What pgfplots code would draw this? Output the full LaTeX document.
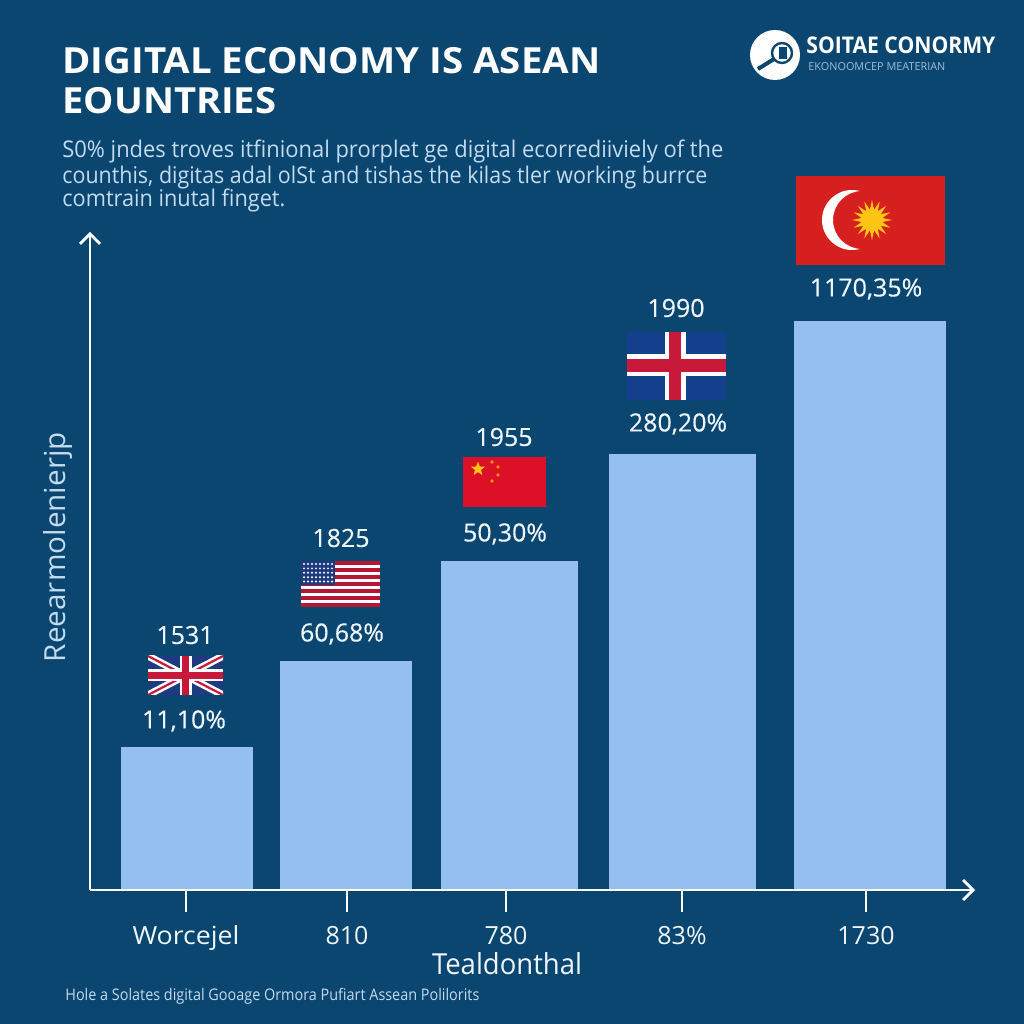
\documentclass[border=0pt]{standalone}
\usepackage{graphicx}
\usepackage{fontspec}
\setmainfont{Open Sans}
\newfontfamily\titlefont{Open Sans}[BoldFont={Open Sans Bold}]
\newfontfamily\medfont{Open Sans}[FakeBold=0.35]
\usepackage{pgfplots}
\pgfplotsset{compat=1.18}
\usetikzlibrary{arrows.meta,shapes.geometric}
\definecolor{bg}{HTML}{0A4670}
\definecolor{barc}{HTML}{94BFEE}
\definecolor{subc}{HTML}{C3DBEF}
\definecolor{txt}{HTML}{EEF5FB}
\definecolor{flagblue}{HTML}{1F3B80}
\definecolor{crossblue}{HTML}{143F8C}
\definecolor{flagred}{HTML}{C8193A}
\definecolor{cnred}{HTML}{DC1026}
\definecolor{myred}{HTML}{D6201F}
\definecolor{sun}{HTML}{FCC514}
\newcommand\fw[2]{\resizebox{#1}{\height}{#2}}
\pgfplotsset{
  onebar/.style n args={4}{ybar, bar width=#1, bar shift=0pt, fill=barc, draw=none,
    point meta=explicit symbolic, nodes near coords,
    every node near coord/.style={anchor=center, xshift=#2, yshift=#3, text=txt,
      font=\medfont\fontsize{12.5}{14}\selectfont}},
}
\begin{document}
\begin{tikzpicture}
\useasboundingbox (0,0) rectangle (512pt,512pt);
\fill[bg] (0,0) rectangle (512pt,512pt);
\begin{axis}[
  at={(45pt,67pt)}, anchor=south west, scale only axis,
  width=442.5pt, height=329pt,
  xmin=90, xmax=975, ymin=0, ymax=658,
  clip=false, axis on top,
  axis lines=left,
  axis line style={white, line width=1.4pt, -{Straight Barb[length=5pt,width=10pt]}},
  xtick={186,347,506,682,866},
  xticklabels={\fw{53.5pt}{Worcejel},810,780,83\%,1730},
  ytick=\empty,
  tick style={white, line width=1.1pt},
  tick align=outside, major tick length=11pt,
  typeset ticklabels with strut,
  xticklabel style={anchor=center, text=txt, yshift=-13.5pt, font=\fontsize{12.5}{14}\selectfont},
  xlabel={\fw{75pt}{Tealdonthal}},
  every axis x label/.style={at={(rel axis cs:0.4712,0)}, anchor=center, yshift=-37pt,
    text=txt, font=\fontsize{14.5}{16}\selectfont},
  ylabel={\fw{115pt}{Reearmolenierjp}},
  every axis y label/.style={at={(rel axis cs:0,0.521)}, rotate=90, anchor=center, yshift=16pt,
    text=subc, font=\fontsize{14.5}{16}\selectfont},
]
\addplot+[onebar={66pt}{-1.5pt}{13pt}{}, mark=none] coordinates {(187,143) [11,10\%]};
\addplot+[onebar={66pt}{-2pt}{13.5pt}{}, mark=none] coordinates {(346,229) [60,68\%]};
\addplot+[onebar={68.5pt}{-2.25pt}{13.5pt}{}, mark=none] coordinates {(509.5,329) [50,30\%]};
\addplot+[onebar={73.5pt}{-2.25pt}{15pt}{}, mark=none] coordinates {(682.5,436) [280,20\%]};
\addplot+[onebar={76pt}{-2pt}{16pt}{}, mark=none] coordinates {(870,569) [1170,35\%]};
\end{axis}
\begin{scope}[shift={(0,512pt)}, x=0.5pt, y=-0.5pt]
% title block
\node[anchor=base west, inner sep=0, text=white, font=\titlefont\bfseries\fontsize{18}{20}\selectfont] at (62,74) {\fw{269pt}{DIGITAL ECONOMY IS ASEAN}};
\node[anchor=base west, inner sep=0, text=white, font=\titlefont\bfseries\fontsize{18}{20}\selectfont] at (62,114) {\fw{107pt}{EOUNTRIES}};
\node[anchor=base west, inner sep=0, text=subc, font=\fontsize{11.5}{13}\selectfont] at (62,158) {\fw{330.5pt}{S0\% jndes troves itfinional prorplet ge digital ecorrediiviely of the}};
\node[anchor=base west, inner sep=0, text=subc, font=\fontsize{11.5}{13}\selectfont] at (62,184) {\fw{322.5pt}{counthis, digitas adal olSt and tishas the kilas tler working burrce}};
\node[anchor=base west, inner sep=0, text=subc, font=\fontsize{11.5}{13}\selectfont] at (62,207) {\fw{111.5pt}{comtrain inutal finget.}};
\node[anchor=base west, inner sep=0, text=subc, font=\fontsize{8}{9}\selectfont] at (65,1000) {\fw{207pt}{Hole a Solates digital Gooage Ormora Pufiart Assean Polilorits}};
% logo
\fill[white] (775,55) circle[radius=25];
\draw[bg, line width=1.2pt] (782,53) circle[radius=10];
\draw[bg, line width=2pt] (758,69) -- (774,59);
\fill[bg] (779,47) rectangle (787,59);
\node[anchor=base west, inner sep=0, text=white, font=\titlefont\bfseries\fontsize{11.5}{13}\selectfont] at (806,54) {\fw{94.5pt}{SOITAE CONORMY}};
\node[anchor=base west, inner sep=0, text=subc!80!bg, font=\fontsize{5.5}{6}\selectfont] at (808,71) {\fw{68.5pt}{EKONOOMCEP MEATERIAN}};
% year labels
\foreach \x/\y/\t in {185/635/1531, 341/538/1825, 504/437/1955, 676/308/1990}
  \node[anchor=center, inner sep=0, text=txt, font=\medfont\fontsize{12.5}{14}\selectfont] at (\x,\y) {\t};
% UK flag
\begin{scope}
\clip (148,656) rectangle (223,695);
\fill[flagblue] (148,656) rectangle (223,695);
\draw[white, line width=3.6pt] (148,656) -- (223,695) (148,695) -- (223,656);
\draw[flagred, line width=1.1pt] (148,656) -- (223,695) (148,695) -- (223,656);
\draw[white, line width=6pt] (185.5,656) -- (185.5,695) (148,675.5) -- (223,675.5);
\draw[flagred, line width=3.6pt] (185.5,656) -- (185.5,695) (148,675.5) -- (223,675.5);
\end{scope}
% US flag
\fill[white] (301,561) rectangle (380,607);
\foreach \i in {0,2,...,12}
  \fill[flagred!90!black] (301,{561+\i*46/13}) rectangle (380,{561+(\i+1)*46/13});
\fill[flagblue] (301,561) rectangle (335,585);
\foreach \a in {0,...,7} \foreach \b in {0,...,4}
  \fill[white] ({304+\a*4},{564+\b*4.4}) circle[radius=1.1];
% China flag
\fill[cnred] (463,457) rectangle (546,507);
\node[star, star points=5, star point ratio=2.4, fill=sun, inner sep=0, minimum size=7.5pt] at (478,469) {};
\foreach \x/\y in {492/462, 498/467, 498/475, 492/481}
  \fill[orange!85!yellow] (\x,\y) circle[radius=1.8];
% Cross flag
\fill[crossblue] (627,332) rectangle (726,400);
\fill[white] (665,332) rectangle (686,400);
\fill[white] (627,354) rectangle (726,376);
\fill[flagred] (669,332) rectangle (681,400);
\fill[flagred] (627,359) rectangle (726,372);
% crescent flag
\fill[myred] (796,176) rectangle (945,265);
\begin{scope}
\clip (815,185) rectangle (860,255);
\fill[white, even odd rule] (852,220) circle[radius=30] (862,220) circle[radius=29];
\end{scope}
\node[star, star points=16, star point ratio=1.9, fill=sun, inner sep=0, minimum size=20pt] at (872,220) {};
\end{scope}
\end{tikzpicture}
\end{document}
